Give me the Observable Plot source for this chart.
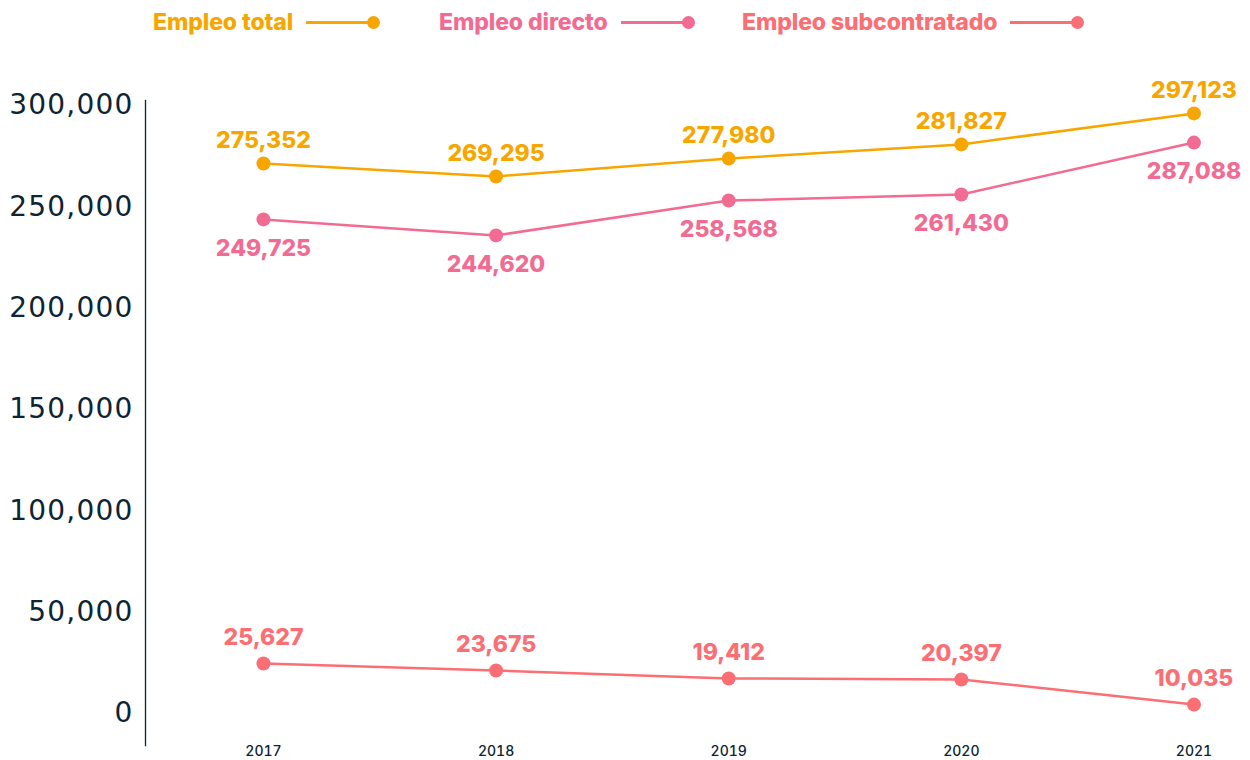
<!DOCTYPE html>
<html>
<head>
<meta charset="utf-8">
<script src="https://cdn.jsdelivr.net/npm/d3@7"></script>
<script src="https://cdn.jsdelivr.net/npm/@observablehq/plot@0.6"></script>
<style>
  body { margin: 0; background: #fff; font-family: Inter, "Open Sans", sans-serif; }
  #legend { position: relative; height: 45px; width: 1250px; }
  .item { position: absolute; top: 8px; display: flex; align-items: center; font-weight: 800; font-size: 23px; letter-spacing: -0.1px; line-height: 28px; }
  .item .ln { display: inline-block; width: 64px; height: 3px; margin-left: 13px; }
  .item .dt { display: inline-block; width: 13px; height: 13px; border-radius: 50%; margin-left: -3px; }
  #chart svg { display: block; }
  #chart g[aria-label="y-axis tick label"] text { letter-spacing: 1.2px; }
</style>
</head>
<body>
<div id="legend"></div>
<div id="chart"></div>
<script>
// ---- data ----
const years = [2017, 2018, 2019, 2020, 2021];
const seriesNames = ["Empleo total", "Empleo directo", "Empleo subcontratado"];
const seriesColors = ["#f7a600", "#f26b92", "#fb6e74"];
// plotted positions
const empleoTotal = [271400, 265000, 273800, 280800, 296100];
const empleoDirecto = [243800, 235900, 253100, 256100, 281700];
const empleoSubcontratado = [24700, 21200, 17300, 16800, 4400];
// value labels as printed on the chart
const labelsTotal = ["275,352", "269,295", "277,980", "281,827", "297,123"];
const labelsDirecto = ["249,725", "244,620", "258,568", "261,430", "287,088"];
const labelsSub = ["25,627", "23,675", "19,412", "20,397", "10,035"];
const yTicks = [0, 50000, 100000, 150000, 200000, 250000, 300000];

const values = [empleoTotal, empleoDirecto, empleoSubcontratado];
const labels = [labelsTotal, labelsDirecto, labelsSub];
const data = seriesNames.flatMap((s, i) =>
  years.map((yr, j) => ({ series: s, year: yr, value: values[i][j], label: labels[i][j] })));

// ---- legend ----
const legendLeft = [153, 439, 742];
const legend = document.getElementById("legend");
seriesNames.forEach((s, i) => {
  const el = document.createElement("div");
  el.className = "item";
  el.style.left = legendLeft[i] + "px";
  el.style.color = seriesColors[i];
  el.innerHTML = `<span>${s}</span><span class="ln" style="background:${seriesColors[i]}"></span><span class="dt" style="background:${seriesColors[i]}"></span>`;
  legend.appendChild(el);
});

const color = { domain: seriesNames, range: seriesColors };
const dyBy = { "Empleo total": -23, "Empleo directo": 29, "Empleo subcontratado": -26 };

const chart = Plot.plot({
  width: 1250,
  height: 715,
  marginLeft: 145,
  marginRight: 10,
  marginTop: 55,
  marginBottom: 15,
  style: { background: "#fff", overflow: "visible" },
  x: { type: "linear", domain: [2016.493, 2021.2], axis: null },
  y: { domain: [-15789, 302467], axis: null },
  color,
  marks: [
    Plot.frame({ anchor: "left", stroke: "#0d2433", strokeWidth: 1.3 }),
    Plot.axisY(yTicks, {
      tickSize: 0, tickPadding: 12, fontSize: 28, fill: "#0d2433",
      fontFamily: "DejaVu Sans", tickFormat: d3.format(","), label: null
    }),
    Plot.axisX(years, {
      anchor: "bottom", tickSize: 0, tickPadding: 0, fontSize: 14, fill: "#0d2433",
      fontWeight: 500, fontFamily: "Inter", tickFormat: d => String(d), label: null, dy: 1
    }),
    Plot.line(data, { x: "year", y: "value", z: "series", stroke: "series", strokeWidth: 2.5 }),
    Plot.dot(data, { x: "year", y: "value", fill: "series", r: 7 }),
    ...seriesNames.map(s =>
      Plot.text(data.filter(d => d.series === s), {
        x: "year", y: "value", text: "label", fill: "series",
        dy: dyBy[s], fontSize: 23, fontWeight: 800, fontFamily: "Inter"
      })
    )
  ]
});
document.getElementById("chart").appendChild(chart);
</script>
</body>
</html>
